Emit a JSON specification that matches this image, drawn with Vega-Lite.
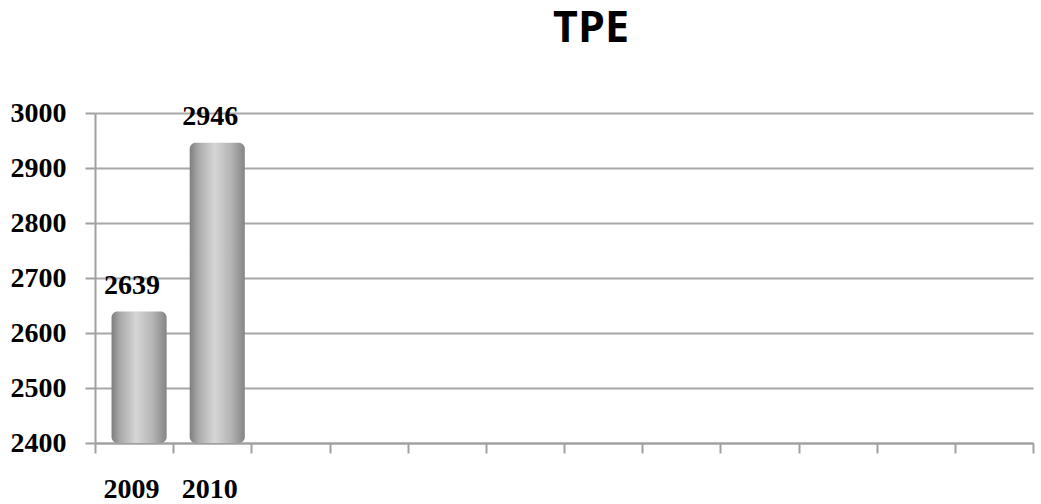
{
  "$schema": "https://vega.github.io/schema/vega-lite/v6.json",
  "width": 938,
  "height": 330,
  "autosize": {"type": "none"},
  "padding": {"left": 95, "top": 113, "right": 8, "bottom": 61},
  "background": "white",
  "title": {
    "text": "TPE",
    "font": "Open Sans",
    "fontWeight": "bold",
    "fontSize": 43,
    "color": "#000000",
    "anchor": "middle",
    "dx": 27,
    "offset": 48
  },
  "data": {
    "values": [
      {"year": "2009", "value": 2639},
      {"year": "2010", "value": 2946}
    ]
  },
  "config": {
    "view": {"stroke": null},
    "axis": {
      "labelFont": "Liberation Serif",
      "labelFontWeight": "bold",
      "labelFontSize": 28,
      "labelColor": "#000000",
      "domainColor": "#a0a0a0",
      "domainWidth": 2,
      "tickColor": "#a0a0a0",
      "tickWidth": 2,
      "tickSize": 10,
      "gridColor": "#a8a8a8",
      "gridWidth": 2
    }
  },
  "encoding": {
    "x": {
      "field": "year",
      "type": "nominal",
      "scale": {
        "domain": ["2009", "2010", "2011", "2012", "2013", "2014", "2015", "2016", "2017", "2018", "2019", "2020"],
        "paddingInner": 0,
        "paddingOuter": 0
      },
      "axis": {
        "title": null,
        "labelAngle": 0,
        "labelExpr": "datum.value == '2009' || datum.value == '2010' ? datum.value : ''",
        "tickBand": "extent",
        "labelPadding": 22,
        "labelOffset": -3,
        "grid": false
      }
    },
    "y": {
      "field": "value",
      "type": "quantitative",
      "scale": {"domain": [2400, 3000], "zero": false, "nice": false},
      "axis": {
        "title": null,
        "values": [2400, 2500, 2600, 2700, 2800, 2900, 3000],
        "labelPadding": 19,
        "grid": true,
        "format": "d"
      }
    }
  },
  "layer": [
    {
      "mark": {
        "type": "bar",
        "cornerRadius": 6,
        "width": {"band": 0.705},
        "xOffset": 5,
        "color": {
          "gradient": "linear",
          "x1": 0, "y1": 0, "x2": 1, "y2": 0,
          "stops": [
            {"offset": 0, "color": "#7e7e7e"},
            {"offset": 0.15, "color": "#a8a8a8"},
            {"offset": 0.45, "color": "#d6d6d6"},
            {"offset": 0.75, "color": "#b4b4b4"},
            {"offset": 1, "color": "#858585"}
          ]
        }
      },
      "encoding": {
        "y2": {"datum": 2400}
      }
    },
    {
      "mark": {
        "type": "text",
        "font": "Liberation Serif",
        "fontWeight": "bold",
        "fontSize": 28,
        "color": "#000000",
        "baseline": "bottom",
        "dy": -12,
        "dx": -2
      },
      "encoding": {
        "text": {"field": "value", "type": "quantitative", "format": "d"}
      }
    }
  ]
}
